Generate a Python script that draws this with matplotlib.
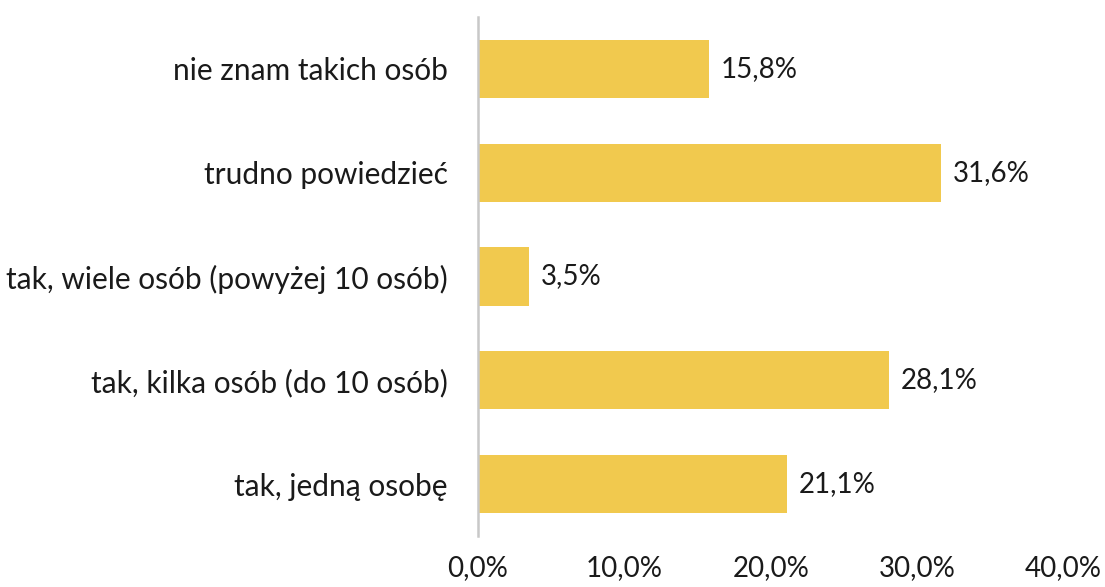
import matplotlib.pyplot as plt
from matplotlib.ticker import FuncFormatter

categories = ["tak, jedną osobę",
              "tak, kilka osób (do 10 osób)",
              "tak, wiele osób (powyżej 10 osób)",
              "trudno powiedzieć",
              "nie znam takich osób"]
values = [21.1, 28.1, 3.5, 31.6, 15.8]
x_ticks = [0, 10, 20, 30, 40]

bar_color = "#F1C94E"
plt.rcParams['font.family'] = ['Lato', 'DejaVu Sans']

fig = plt.figure(figsize=(11.05, 5.87), dpi=100)
ax = fig.add_axes([0.4326, 0.087, 0.53, 0.884])

ypos = range(len(categories))
ax.barh(ypos, values, height=0.56, color=bar_color, zorder=2)

for y, v in zip(ypos, values):
    ax.text(v + 0.8, y, f"{v:.1f}%".replace(".", ","), va="center", ha="left",
            fontsize=20, color="#1a1a1a")

ax.set_yticks(list(ypos))
ax.set_yticklabels(categories, fontsize=21.5, color="#1a1a1a")
ax.set_ylim(-0.5, 4.5)
ax.set_xlim(0, 40)
ax.set_xticks(x_ticks)
ax.xaxis.set_major_formatter(FuncFormatter(lambda v, p: f"{v:.1f}%".replace(".", ",")))
ax.tick_params(axis="x", length=0, labelsize=20, pad=14, colors="#1a1a1a")
ax.tick_params(axis="y", length=0, pad=22)

for s in ["top", "right", "bottom"]:
    ax.spines[s].set_visible(False)
ax.spines["left"].set_color("#C8C8C8")
ax.spines["left"].set_linewidth(1.8)

fig.savefig("out.png", dpi=100)
